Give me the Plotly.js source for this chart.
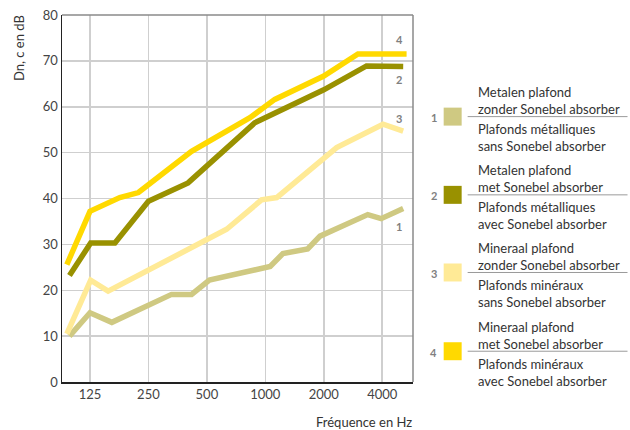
<!DOCTYPE html>
<html>
<head>
<meta charset="utf-8">
<script src="https://cdn.plot.ly/plotly-3.0.1.min.js"></script>
<style>html,body{margin:0;padding:0;background:#fff;}#chart{width:630px;height:430px;}</style>
</head>
<body>
<div id="chart"></div>
<script>
// ---- data (frequency in Hz, value in dB) ----
const freq1 = [98, 125, 162, 329, 417, 515, 1059, 1232, 1652, 1913, 3370, 3950, 5130];
const vals1 = [10.0, 15.1, 13.0, 19.1, 19.1, 22.2, 25.2, 28.0, 29.0, 31.8, 36.5, 35.6, 37.8];
const freq2 = [98, 126, 168, 250, 400, 882, 2000, 3320, 5130];
const vals2 = [23.2, 30.3, 30.3, 39.4, 43.4, 56.5, 63.7, 68.9, 68.8];
const freq3 = [95, 126, 155, 632, 956, 1145, 2330, 4040, 5130];
const vals3 = [10.5, 22.2, 19.8, 33.3, 39.7, 40.2, 51.1, 56.2, 54.7];
const freq4 = [95, 125, 178, 222, 417, 833, 1119, 2000, 3000, 5340];
const vals4 = [25.6, 37.2, 40.2, 41.3, 50.3, 57.6, 61.6, 66.7, 71.5, 71.5];

const tickVals = [125, 250, 500, 1000, 2000, 4000];
const tickText = ['125', '250', '500', '1000', '2000', '4000'];
const seriesNums = ['1', '2', '3', '4'];
const endLabelY = [34.0, 66.0, 57.4, 74.7];
const legendNL = ['Metalen plafond<br>zonder Sonebel absorber', 'Metalen plafond<br>met Sonebel absorber',
                  'Mineraal plafond<br>zonder Sonebel absorber', 'Mineraal plafond<br>met Sonebel absorber'];
const legendFR = ['Plafonds métalliques<br>sans Sonebel absorber', 'Plafonds métalliques<br>avec Sonebel absorber',
                  'Plafonds minéraux<br>sans Sonebel absorber', 'Plafonds minéraux<br>avec Sonebel absorber'];
const colors = ['#CFC982', '#999100', '#FFEA96', '#FFD900'];

// ---- layout geometry ----
const W = 630, H = 430;
const L = 62, R = 413.3, T = 15, B = 382.3;
const px = x => (x - L) / (R - L);
const py = y => (B - y) / (B - T);
const FONT = 'Lato, "Open Sans", sans-serif';

const xs = [freq1, freq2, freq3, freq4];
const ys = [vals1, vals2, vals3, vals4];
const traces = xs.map((x, i) => ({
  x: x, y: ys[i], type: 'scatter', mode: 'lines',
  line: {color: colors[i], width: 5.5}, hoverinfo: 'skip', showlegend: false
}));

const annotations = [];
const shapes = [];
// end labels on the chart
seriesNums.forEach((n, i) => {
  annotations.push({xref: 'paper', yref: 'y', x: px(399.5), y: endLabelY[i], text: '<b>' + n + '</b>',
    showarrow: false, xanchor: 'center', yanchor: 'middle', font: {family: FONT, size: 11, color: '#808080'}});
});
// legend
const itemSep = [116.7, 195, 272.7, 351.5];
itemSep.forEach((s, i) => {
  shapes.push({type: 'rect', xref: 'paper', yref: 'paper', x0: px(444), x1: px(462), y0: py(s - 9), y1: py(s + 9),
    fillcolor: colors[i], line: {width: 0}});
  shapes.push({type: 'line', xref: 'paper', yref: 'paper', x0: px(468), x1: px(628), y0: py(s), y1: py(s),
    line: {color: '#9a9a9a', width: 1}});
  annotations.push({xref: 'paper', yref: 'paper', x: px(434), y: py(s + 1), text: '<b>' + seriesNums[i] + '</b>',
    showarrow: false, xanchor: 'center', yanchor: 'middle', font: {family: FONT, size: 11, color: '#808080'}});
  annotations.push({xref: 'paper', yref: 'paper', x: px(476), y: py(s - 16), text: legendNL[i],
    showarrow: false, xanchor: 'left', yanchor: 'middle', align: 'left',
    font: {family: FONT, size: 13, color: '#333'}});
  annotations.push({xref: 'paper', yref: 'paper', x: px(476), y: py(s + 21), text: legendFR[i],
    showarrow: false, xanchor: 'left', yanchor: 'middle', align: 'left',
    font: {family: FONT, size: 13, color: '#333'}});
});
// axis titles
annotations.push({xref: 'paper', yref: 'paper', x: px(19), y: py(48), text: 'Dn, c en dB', textangle: -90,
  showarrow: false, xanchor: 'center', yanchor: 'middle', font: {family: FONT, size: 13, color: '#333'}});
annotations.push({xref: 'paper', yref: 'paper', x: px(414), y: py(422), text: 'Fréquence en Hz',
  showarrow: false, xanchor: 'right', yanchor: 'middle', font: {family: FONT, size: 13, color: '#333'}});
// top / right frame
shapes.push({type: 'line', xref: 'paper', yref: 'paper', x0: 0, x1: 1, y0: 1, y1: 1, line: {color: '#8a8a8a', width: 1.5}});
shapes.push({type: 'line', xref: 'paper', yref: 'paper', x0: 1, x1: 1, y0: 0, y1: 1, line: {color: '#8a8a8a', width: 1.5}});

const layout = {
  width: W, height: H,
  margin: {l: L, r: W - R, t: T, b: H - B, pad: 0},
  paper_bgcolor: '#fff', plot_bgcolor: '#fff',
  font: {family: FONT, size: 13, color: '#444'},
  showlegend: false,
  xaxis: {type: 'log', range: [Math.log10(89.7), Math.log10(5762)], tickmode: 'array',
    tickvals: tickVals, ticktext: tickText, showgrid: true, gridcolor: '#cfcfcf', gridwidth: 1.5,
    showline: true, linecolor: '#222', linewidth: 1.5, ticks: '', zeroline: false,
    tickfont: {family: FONT, size: 13, color: '#444'}},
  yaxis: {range: [0, 80], dtick: 10, showgrid: true, gridcolor: '#cfcfcf', gridwidth: 1.5,
    showline: true, linecolor: '#222', linewidth: 1.5, ticks: '', zeroline: false,
    tickfont: {family: FONT, size: 13, color: '#444'}},
  annotations: annotations, shapes: shapes
};
Plotly.newPlot('chart', traces, layout, {staticPlot: true, displayModeBar: false});
</script>
</body>
</html>
